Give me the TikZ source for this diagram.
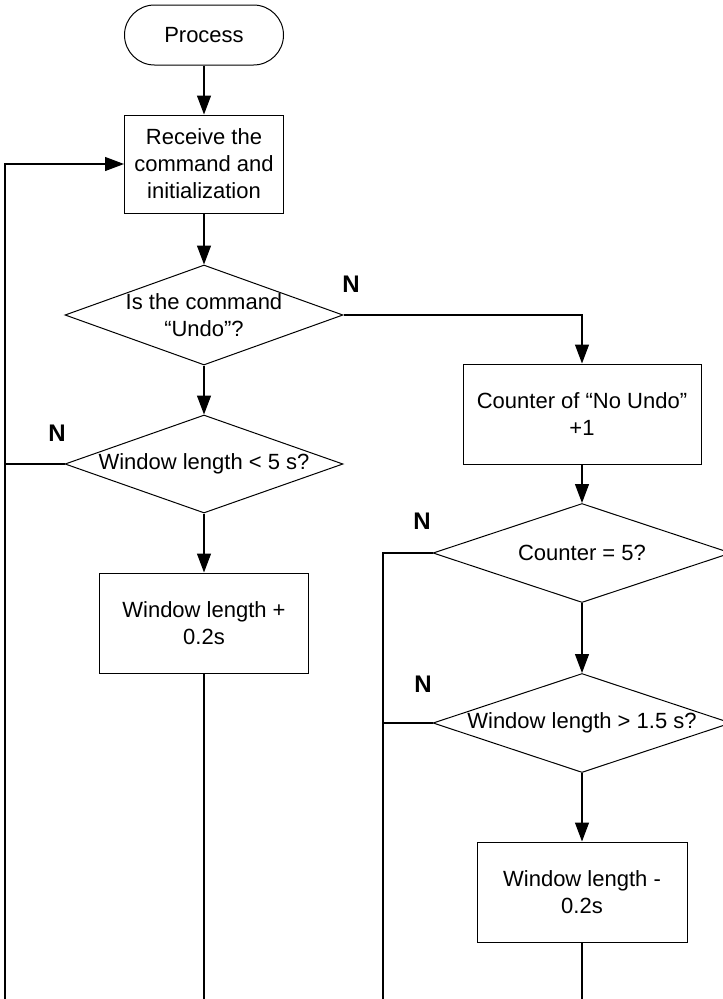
\documentclass[tikz,border=0pt]{standalone}
\usepackage{fontspec}
\setmainfont{Liberation Sans}
\usetikzlibrary{shapes.geometric,arrows.meta}
\begin{document}
\begin{tikzpicture}[x=1pt,y=-1pt,
  font=\fontsize{22}{27}\selectfont,
  every node/.style={align=center, inner sep=0pt},
  stepbox/.style={draw, line width=1pt, minimum height=100pt},
  terminal/.style={draw, line width=1pt, rounded corners=30pt, minimum width=159pt, minimum height=60pt},
  decision/.style={diamond, draw, line width=1pt, minimum height=100pt},
  conn/.style={line width=1.2pt},
  arr/.style={conn, -{Triangle[length=19pt,width=14pt]}},
  nlabel/.style={font=\fontsize{24}{28}\selectfont\bfseries}]
\fill[white] (0,0) rectangle (723,999);
\useasboundingbox (0,0) rectangle (723,999);

% left column
\node[terminal] (proc) at (204,35) {Process};
\node[stepbox, minimum width=159pt, minimum height=98pt] (recv) at (204,164) {Receive the\\command and\\initialization};
\node[decision, minimum width=278pt, aspect=2.78] (q1) at (204,315) {Is the command\\“Undo”?};
\node[decision, minimum width=278pt, minimum height=98pt, aspect=2.84] (q2) at (204,464) {Window length < 5 s?};
\node[stepbox, minimum width=209pt] (inc) at (204,623) {Window length +\\0.2s};

% right column
\node[stepbox, minimum width=238pt] (cnt) at (582,414) {Counter of “No Undo”\\+1};
\node[decision, minimum width=298pt, minimum height=99pt, aspect=3.01] (q3) at (582,553) {Counter = 5?};
\node[decision, minimum width=298pt, minimum height=99pt, aspect=3.01] (q4) at (582,723) {Window length > 1.5 s?};
\node[stepbox, minimum width=210pt] (dec) at (582,892) {Window length -\\0.2s};

% branch labels
\node[nlabel] (n1) at (351,284) {N};
\node[nlabel] (n2) at (57,433) {N};
\node[nlabel] (n3) at (422,521) {N};
\node[nlabel] (n4) at (423,684) {N};

% loose ends running off the bottom edge
\coordinate (lloop) at (5,999);
\coordinate (rloop) at (383,999);
\coordinate (incend) at (204,999);
\coordinate (decend) at (582,999);

% main flow
\draw[arr] (proc) -- (recv);
\draw[arr] (recv) -- (q1);
\draw[arr] (q1) -- (q2);
\draw[arr] (q2) -- (inc);
\draw[conn] (inc) -- (incend);
\draw[arr] (q1.east) -| (cnt.north);
\draw[arr] (cnt) -- (q3);
\draw[arr] (q3) -- (q4);
\draw[arr] (q4) -- (dec);
\draw[conn] (dec) -- (decend);

% return paths
\draw[arr] (lloop) |- (recv.west);
\draw[conn] (q2.west) -- (q2.west -| lloop);
\draw[conn] (q3.west) -- (q3.west -| rloop) -- (rloop);
\draw[conn] (q4.west) -- (q4.west -| rloop);
\end{tikzpicture}
\end{document}
